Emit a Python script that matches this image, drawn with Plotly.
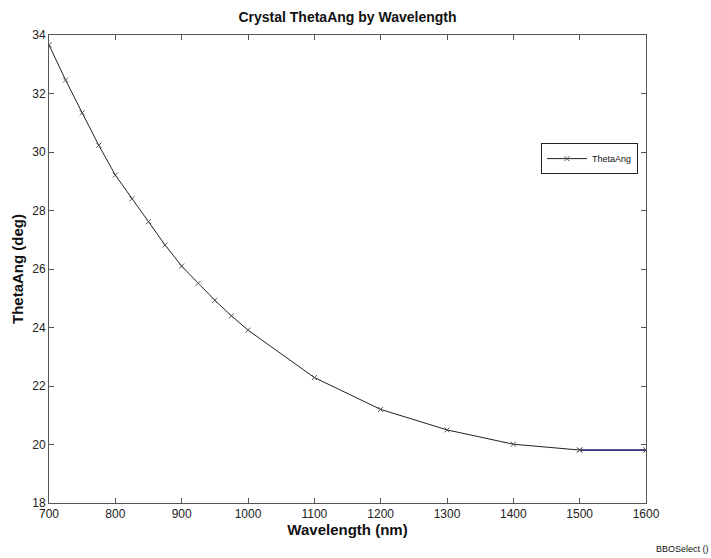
import plotly.graph_objects as go

wavelength = [700, 725, 750, 775, 800, 825, 850, 875, 900, 925, 950, 975, 1000,
              1100, 1200, 1300, 1400, 1500, 1600]
theta_ang = [33.66, 32.46, 31.34, 30.23, 29.21, 28.40, 27.62, 26.82, 26.10, 25.51,
             24.93, 24.40, 23.91, 22.29, 21.20, 20.50, 20.01, 19.81, 19.81]
tail_x = wavelength[-2:]
tail_y = theta_ang[-2:]

x_ticks = [700, 800, 900, 1000, 1100, 1200, 1300, 1400, 1500, 1600]
y_ticks = [18, 20, 22, 24, 26, 28, 30, 32, 34]

FONT = "Arial, Liberation Sans, sans-serif"

fig = go.Figure()
fig.add_trace(go.Scatter(
    x=wavelength, y=theta_ang, mode="lines+markers", name="ThetaAng",
    line=dict(color="#222222", width=1),
    marker=dict(symbol="x-thin", size=5, line=dict(color="#555555", width=1)),
))
fig.add_trace(go.Scatter(
    x=tail_x, y=tail_y, mode="lines", showlegend=False,
    line=dict(color="#1a1a7a", width=1.2),
))
fig.add_trace(go.Scatter(
    x=tail_x, y=tail_y, mode="markers", showlegend=False,
    marker=dict(symbol="x-thin", size=5, line=dict(color="#555555", width=1)),
))

axis_common = dict(
    showgrid=False, zeroline=False, showline=True, linecolor="#555555", linewidth=1,
    mirror="ticks", ticks="inside", ticklen=5, tickcolor="#555555", automargin=False,
    tickfont=dict(family=FONT, size=12, color="#222222"),
)

fig.update_layout(
    width=711, height=558,
    margin=dict(l=49, r=65, t=35, b=55),
    paper_bgcolor="white", plot_bgcolor="white",
    title=dict(text="<b>Crystal ThetaAng by Wavelength</b>", x=(49 + 646) / 2 / 711,
               xanchor="center", y=1 - 17 / 558, yanchor="middle",
               font=dict(family=FONT, size=14, color="#111111")),
    xaxis=dict(range=[700, 1600], tickvals=x_ticks,
               title=dict(text="<b>Wavelength (nm)</b>", standoff=4,
                          font=dict(family=FONT, size=15, color="#111111")),
               **axis_common),
    yaxis=dict(range=[18, 34], tickvals=y_ticks,
               title=dict(text="<b>ThetaAng (deg)</b>", standoff=4,
                          font=dict(family=FONT, size=15, color="#111111")),
               **axis_common),
    legend=dict(x=0.824, y=0.769, xanchor="left", yanchor="top",
                bordercolor="#222222", borderwidth=1, bgcolor="white",
                font=dict(family=FONT, size=9, color="#111111"),
                itemwidth=40, tracegroupgap=0),
    showlegend=True,
)

fig.add_annotation(text="BBOSelect ()", xref="paper", yref="paper",
                   x=1.109, y=-0.098, xanchor="right", yanchor="middle", showarrow=False,
                   font=dict(family=FONT, size=9, color="#111111"))

fig.write_html("out.html", config={"displayModeBar": False},
               post_script="document.body.style.margin='0';document.body.style.overflow='hidden';")
